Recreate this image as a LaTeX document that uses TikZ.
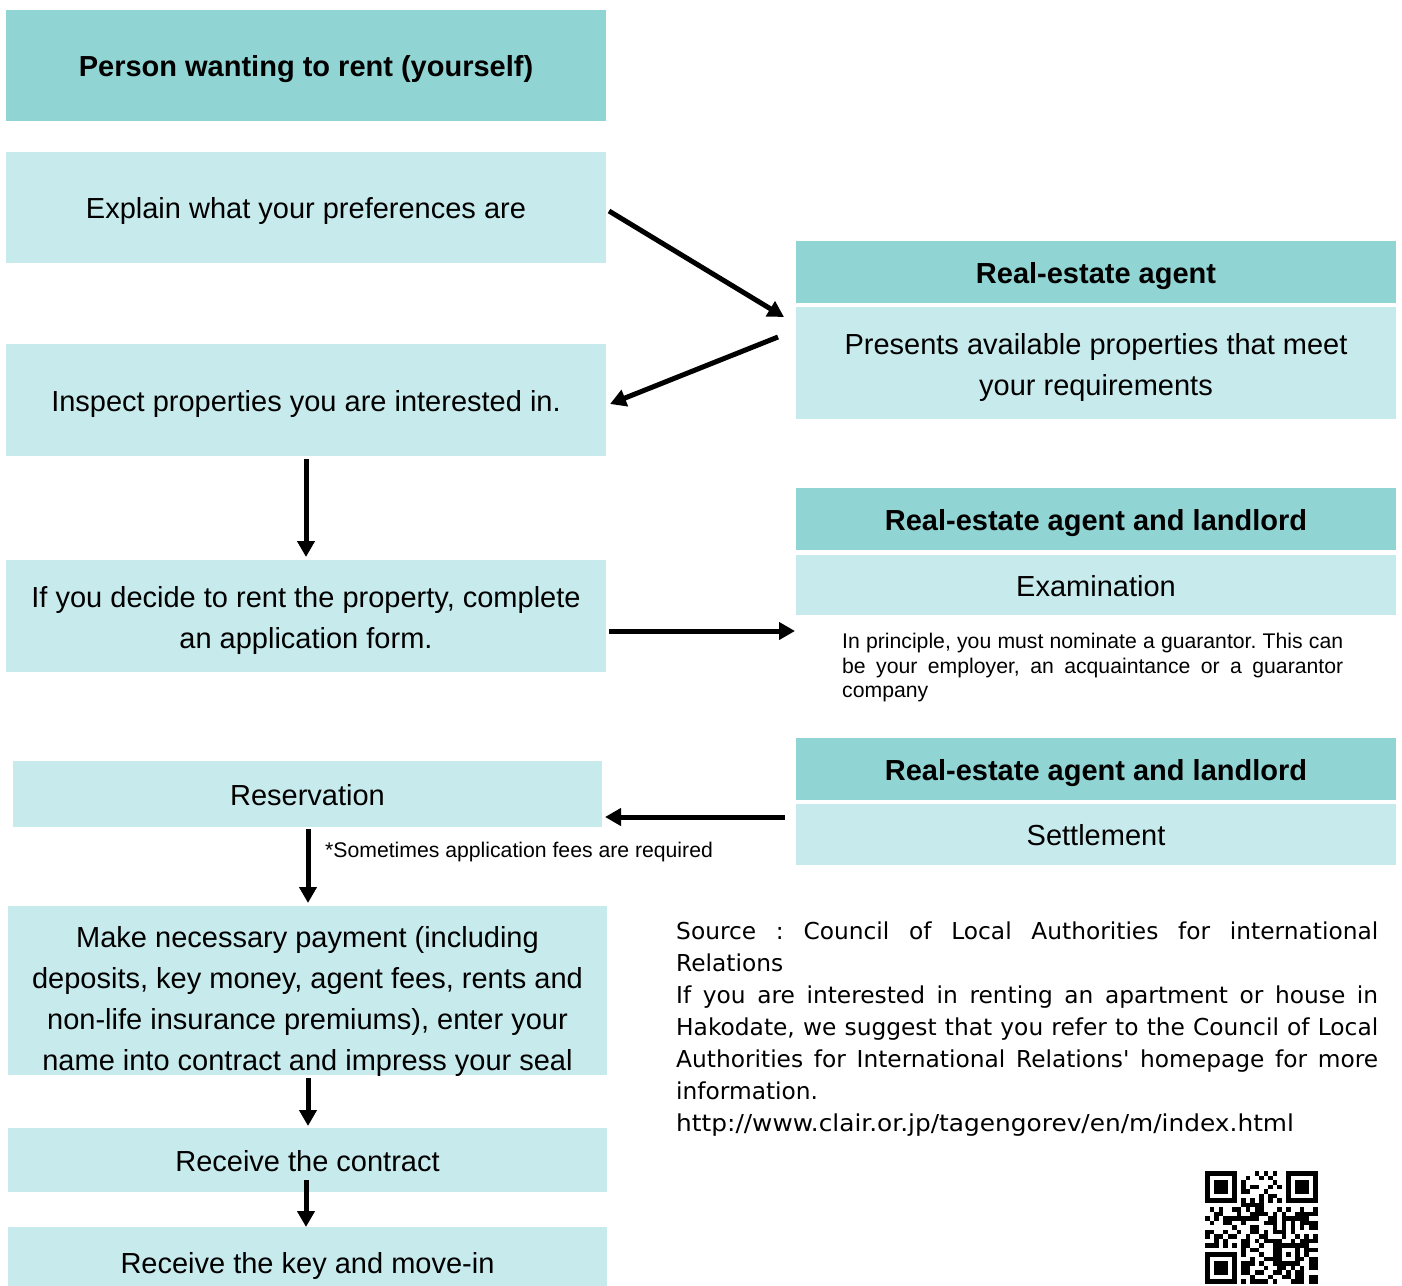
\documentclass[tikz,border=0pt]{standalone}
\usepackage{fontspec}
\setmainfont{Liberation Sans}
\newfontfamily\srcfont{DejaVu Sans}
\usetikzlibrary{arrows.meta,calc}
\definecolor{tealdark}{RGB}{144,213,212}
\definecolor{teallight}{RGB}{199,234,236}
\frenchspacing
\setlength\parindent{0pt}
\newcommand\firststrut{\rule{0pt}{31pt}}
\begin{document}
\begin{tikzpicture}[x=1pt,y=-1pt,
  box/.style={anchor=north west, inner sep=0pt, outer sep=0pt, minimum width=600pt, align=center,
    font=\fontsize{29}{41}\selectfont, execute at begin node={\rule[-7pt]{0pt}{36pt}}},
  hd/.style={box, fill=tealdark, font=\bfseries\fontsize{29}{35}\selectfont},
  lt/.style={box, fill=teallight},
  smalltext/.style={inner sep=0pt, font=\fontsize{21.2}{24.5}\selectfont},
  arr/.style={line width=5pt, -{Triangle[length=16pt,width=17pt]}}
]
\fill[white] (0,0) rectangle (1402,1285);
\useasboundingbox (0,0) rectangle (1402,1285);

% left column
\node[hd, minimum height=111pt] (b0) at (6,10) {Person wanting to rent (yourself)};
\node[lt, minimum height=111pt] (b1) at (6,152) {Explain what your preferences are};
\node[lt, minimum height=112pt] (b2) at (6,344) {Inspect properties you are interested in.};
\node[lt, minimum height=112pt] (b3) at (6,560) {\firststrut If you decide to rent the property, complete\\an application form.};
\node[lt, minimum width=589pt, minimum height=66pt] (res) at (13,761) {Reservation};
\node[fill=teallight, anchor=north west, inner sep=0pt, outer sep=0pt, minimum width=599pt, minimum height=169pt] (pay) at (8,906) {};
\begin{scope}
  \clip (pay.north west) rectangle (pay.south east);
  \node[inner sep=0pt, align=center, font=\fontsize{29}{41}\selectfont] (paytx) at ($(pay.center)+(0,11)$)
    {Make necessary payment (including\\deposits, key money, agent fees, rents and\\non-life insurance premiums), enter your\\name into contract and impress your seal};
\end{scope}
\node[lt, minimum width=599pt, minimum height=64pt] (rc) at (8,1128) {Receive the contract};
\node[lt, minimum width=599pt, minimum height=70pt] (rk) at (8,1227) {Receive the key and move-in};

% right column
\node[hd, minimum height=62pt] (agh) at (796,241) {Real-estate agent};
\node[lt, minimum height=112pt] (agb) at (796,307) {\firststrut Presents available properties that meet\\your requirements};
\node[hd, minimum height=62pt] (exh) at (796,488) {Real-estate agent and landlord};
\node[lt, minimum height=60pt] (exb) at (796,555) {Examination};
\node[smalltext, anchor=north west, text width=501pt, align=justify] (guar) at (842,633)
  {In principle, you must nominate a guarantor. This can\linebreak be your employer, an acquaintance or a guarantor\linebreak company};
\node[hd, minimum height=62pt] (seh) at (796,738) {Real-estate agent and landlord};
\node[lt, minimum height=61pt] (seb) at (796,804) {Settlement};

\node[smalltext, anchor=west] (note) at (325,852.5) {*Sometimes application fees are required};

% source text
\node[anchor=north west, inner sep=0pt, text width=702pt, align=justify,
      font=\srcfont\fontsize{23.3}{32}\selectfont] (src) at (676,922)
  {Source : Council of Local Authorities for international\linebreak Relations\par
   If you are interested in renting an apartment or house in\linebreak Hakodate, we suggest that you refer to the Council of Local\linebreak Authorities for International Relations\textquotesingle{} homepage for more\linebreak information.\par
   \scalebox{1.065}[1]{http://www.clair.or.jp/tagengorev/en/m/index.html}};

% arrows
\draw[arr] ($(b1.east)+(3,3.5)$) -- ($(agb.north west)+(-12,10)$);
\draw[arr] ($(agb.north west)+(-18,30)$) -- ($(b2.east)+(4,4)$);
\draw[arr] ($(b2.south)+(0,3)$) -- ($(b3.north)+(0,-3)$);
\draw[arr] ($(b3.east)+(3,15)$) -- ($(exb.south west)+(-1,16)$);
\draw[arr] ($(seb.north west)+(-11,13)$) -- ($(res.east)+(3,23)$);
\draw[arr] ($(res.south)+(0.5,2)$) -- ($(pay.north)+(0.5,-3)$);
\draw[arr] ($(pay.south)+(0.5,3)$) -- ($(rc.north)+(0.5,-2)$);
\draw[arr] ($(rc.south)+(-1.5,-12)$) -- ($(rk.north)+(-1.5,0)$);

% QR code (approximation)
\def\qx{1205}\def\qy{1171}\def\qm{4.5}
\pgfmathsetseed{12345}
\foreach \qi in {0,...,24}{
  \foreach \qj in {0,...,24}{
    \pgfmathtruncatemacro{\rsv}{((\qi<8)&&(\qj<8)) || ((\qi<8)&&(\qj>16)) || ((\qi>16)&&(\qj<8)) || ((\qi>15)&&(\qi<21)&&(\qj>15)&&(\qj<21)) || (\qi==6) || (\qj==6)}
    \ifnum\rsv=0
      \pgfmathtruncatemacro{\bit}{rnd<0.5}
      \ifnum\bit=1
        \fill[black] (\qx+\qj*\qm, \qy+\qi*\qm) rectangle ++(\qm,\qm);
      \fi
    \fi
  }
}
\foreach \fx/\fy in {0/0, 18/0, 0/18}{
  \fill[black] (\qx+\fx*\qm, \qy+\fy*\qm) rectangle ++(7*\qm, 7*\qm);
  \fill[white] (\qx+\fx*\qm+\qm, \qy+\fy*\qm+\qm) rectangle ++(5*\qm, 5*\qm);
  \fill[black] (\qx+\fx*\qm+2*\qm, \qy+\fy*\qm+2*\qm) rectangle ++(3*\qm, 3*\qm);
}
\foreach \k in {8,10,...,16}{
  \fill[black] (\qx+\k*\qm, \qy+6*\qm) rectangle ++(\qm,\qm);
  \fill[black] (\qx+6*\qm, \qy+\k*\qm) rectangle ++(\qm,\qm);
}
\fill[black] (\qx+16*\qm, \qy+16*\qm) rectangle ++(5*\qm, 5*\qm);
\fill[white] (\qx+17*\qm, \qy+17*\qm) rectangle ++(3*\qm, 3*\qm);
\fill[black] (\qx+18*\qm, \qy+18*\qm) rectangle ++(\qm, \qm);
\end{tikzpicture}
\end{document}
